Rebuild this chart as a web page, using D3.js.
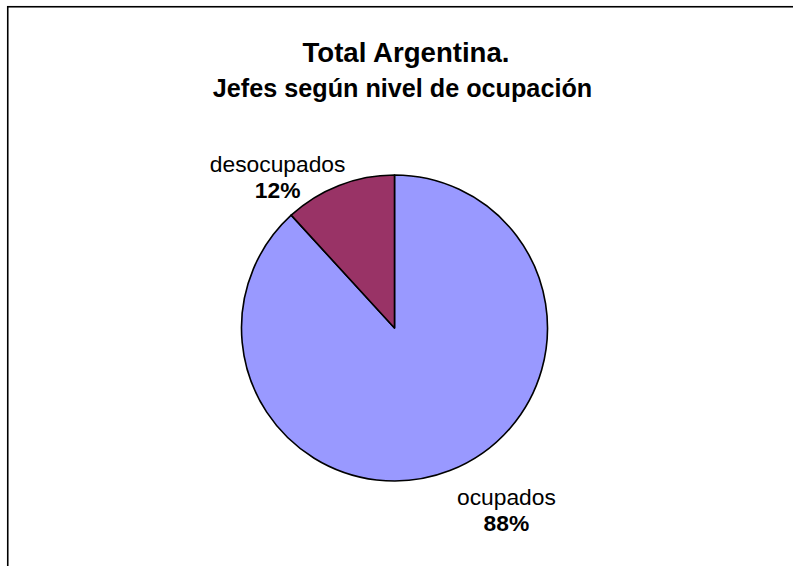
<!DOCTYPE html>
<html>
<head>
<meta charset="utf-8">
<script src="https://cdn.jsdelivr.net/npm/d3@7"></script>
<style>
  html, body { margin: 0; padding: 0; background: #fff; }
  svg { display: block; font-family: "Liberation Sans", Arial, sans-serif; }
</style>
</head>
<body>
<svg id="chart" width="793" height="566"></svg>
<script>
const categories = ["ocupados", "desocupados"];
const values = [88.2, 11.8];
const percentLabels = ["88%", "12%"];
const colors = ["#9999FF", "#993366"];
const titleLines = ["Total Argentina.", "Jefes según nivel de ocupación"];

const svg = d3.select("#chart");

// outer chart frame (clipped by the window on right and bottom)
svg.append("rect")
  .attr("x", 7.75).attr("y", 6.75)
  .attr("width", 820).attr("height", 620)
  .attr("fill", "#fff")
  .attr("stroke", "#000")
  .attr("stroke-width", 1.6);

// titles
svg.append("text")
  .attr("x", 406).attr("y", 62)
  .attr("text-anchor", "middle")
  .attr("font-weight", "bold")
  .attr("font-size", 27.6)
  .text(titleLines[0]);
svg.append("text")
  .attr("x", 402.5).attr("y", 97)
  .attr("text-anchor", "middle")
  .attr("font-weight", "bold")
  .attr("font-size", 25.2)
  .text(titleLines[1]);

const cx = 394.5, cy = 328, r = 153;
const data = categories.map((c, i) => ({ name: c, value: values[i], label: percentLabels[i], color: colors[i] }));

const pie = d3.pie().sort(null).value(d => d.value).startAngle(0).endAngle(2 * Math.PI);
const arc = d3.arc().innerRadius(0).outerRadius(r);
const arcs = pie(data);

const g = svg.append("g").attr("transform", `translate(${cx},${cy})`);
g.selectAll("path")
  .data(arcs)
  .join("path")
  .attr("d", arc)
  .attr("fill", d => d.data.color)
  .attr("stroke", "#000")
  .attr("stroke-width", 1.6)
  .attr("stroke-linejoin", "round");

// data labels placed outside the pie relative to each slice's mid-angle
const labelArc = d3.arc().innerRadius(r * 1.27).outerRadius(r * 1.27);
const labelOffsets = [[41.5, -1], [-46.5, 28]];
arcs.forEach((a, i) => {
  const [lx, ly] = labelArc.centroid(a);
  const t = g.append("text")
    .attr("text-anchor", "middle")
    .attr("font-size", 22.8)
    .attr("fill", "#000");
  const px = lx + labelOffsets[i][0], py = ly + labelOffsets[i][1];
  t.append("tspan").attr("x", px).attr("y", py - 3).text(a.data.name);
  t.append("tspan").attr("x", px).attr("y", py + 23).attr("font-weight", "bold").text(a.data.label);
});
</script>
</body>
</html>
